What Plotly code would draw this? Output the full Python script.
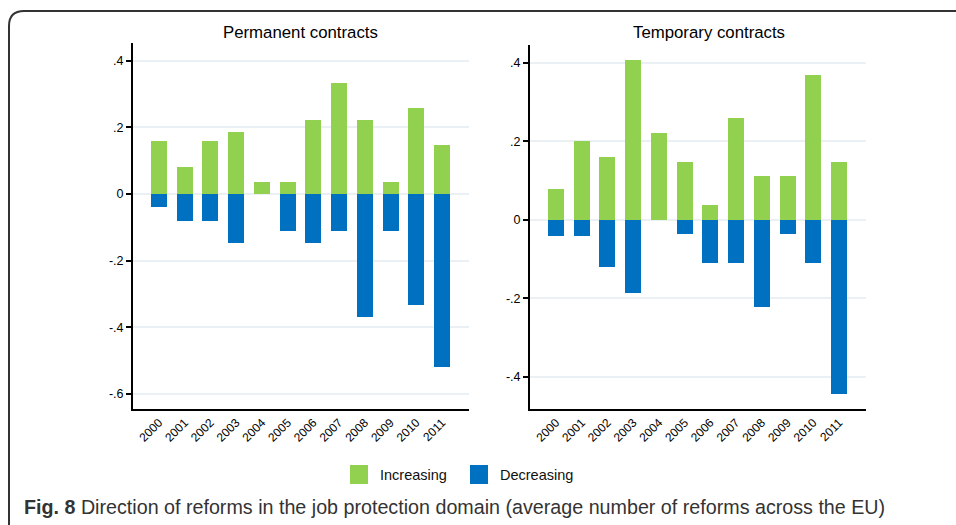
import plotly.graph_objects as go

W, H = 956, 525

years = ["2000", "2001", "2002", "2003", "2004", "2005", "2006", "2007", "2008", "2009", "2010", "2011"]

perm_increasing = [0.16, 0.08, 0.16, 0.185, 0.037, 0.037, 0.222, 0.333, 0.222, 0.037, 0.259, 0.148]
perm_decreasing = [-0.04, -0.08, -0.08, -0.148, 0.0, -0.111, -0.148, -0.111, -0.37, -0.111, -0.333, -0.519]

temp_increasing = [0.08, 0.2, 0.16, 0.407, 0.222, 0.148, 0.037, 0.259, 0.111, 0.111, 0.37, 0.148]
temp_decreasing = [-0.04, -0.04, -0.12, -0.185, 0.0, -0.037, -0.111, -0.111, -0.222, -0.037, -0.111, -0.444]

perm_ticks = [0.4, 0.2, 0, -0.2, -0.4, -0.6]
perm_ticklabels = [".4", ".2", "0", "-.2", "-.4", "-.6"]
temp_ticks = [0.4, 0.2, 0, -0.2, -0.4]
temp_ticklabels = [".4", ".2", "0", "-.2", "-.4"]

series_names = ["Increasing", "Decreasing"]

GREEN = "#92d050"
BLUE = "#0070c0"
xs = list(range(len(years)))


def px(x):
    return x / W


def py(y):
    return 1 - y / H


fig = go.Figure()
fig.add_trace(go.Bar(x=xs, y=perm_increasing, name=series_names[0], marker=dict(color=GREEN, line_width=0),
                     width=0.62, xaxis="x", yaxis="y", showlegend=False))
fig.add_trace(go.Bar(x=xs, y=perm_decreasing, name=series_names[1], marker=dict(color=BLUE, line_width=0),
                     width=0.62, xaxis="x", yaxis="y", showlegend=False))
fig.add_trace(go.Bar(x=xs, y=temp_increasing, name=series_names[0], marker=dict(color=GREEN, line_width=0),
                     width=0.62, xaxis="x2", yaxis="y2", showlegend=False))
fig.add_trace(go.Bar(x=xs, y=temp_decreasing, name=series_names[1], marker=dict(color=BLUE, line_width=0),
                     width=0.62, xaxis="x2", yaxis="y2", showlegend=False))

xaxis_common = dict(
    tickmode="array", tickvals=xs, ticktext=years, tickangle=-45,
    showline=True, linecolor="black", linewidth=2, ticks="", showgrid=False,
    zeroline=False, tickfont=dict(family="Liberation Sans, Arial", size=12, color="black"),
    range=[-1.01, 12.05], fixedrange=True,
)
yaxis_common = dict(
    tickmode="array", showline=True, linecolor="black", linewidth=2,
    ticks="outside", ticklen=5, tickwidth=1.5, tickcolor="black",
    showgrid=True, gridcolor="#eaf0f3", gridwidth=1.5, zeroline=False,
    tickfont=dict(family="Liberation Sans, Arial", size=12.5, color="black"),
    fixedrange=True,
)

fig.update_layout(
    width=W, height=H,
    margin=dict(l=0, r=0, t=0, b=0),
    paper_bgcolor="white", plot_bgcolor="white",
    barmode="relative", bargap=0,
    xaxis=dict(domain=[px(133), px(469)], anchor="y", **xaxis_common),
    yaxis=dict(domain=[py(409), py(43)], anchor="x", range=[-0.645, 0.453],
               tickvals=perm_ticks, ticktext=perm_ticklabels, **yaxis_common),
    xaxis2=dict(domain=[px(530), px(866)], anchor="y2", **xaxis_common),
    yaxis2=dict(domain=[py(409), py(45)], anchor="x2", range=[-0.482, 0.446],
                tickvals=temp_ticks, ticktext=temp_ticklabels, **yaxis_common),
    showlegend=False,
    font=dict(family="Liberation Sans, Arial", color="black"),
)

fig.add_annotation(x=px(300), y=py(33), xref="paper", yref="paper", text="Permanent contracts",
                   showarrow=False, xanchor="center", yanchor="middle",
                   font=dict(family="Liberation Sans, Arial", size=16.8, color="black"))
fig.add_annotation(x=px(709), y=py(33), xref="paper", yref="paper", text="Temporary contracts",
                   showarrow=False, xanchor="center", yanchor="middle",
                   font=dict(family="Liberation Sans, Arial", size=16.8, color="black"))

# legend keys
for (bx, tx, color, name) in [(350, 378, GREEN, series_names[0]), (470, 498, BLUE, series_names[1])]:
    fig.add_shape(type="rect", xref="paper", yref="paper",
                  x0=px(bx), x1=px(bx + 18), y0=py(484), y1=py(465),
                  fillcolor=color, line_width=0)
    fig.add_annotation(x=px(tx), y=py(475), xref="paper", yref="paper", text=name,
                       showarrow=False, xanchor="left", yanchor="middle",
                       font=dict(family="Liberation Sans, Arial", size=14.5, color="#111"))

fig.add_annotation(x=px(22), y=py(507), xref="paper", yref="paper",
                   text="<b>Fig. 8</b> Direction of reforms in the job protection domain (average number of reforms across the EU)",
                   showarrow=False, xanchor="left", yanchor="middle",
                   font=dict(family="Liberation Sans Narrow, Liberation Sans, Arial", size=19.7, color="#333"))

# outer frame (rounded top-left corner)
x0, y0, r = px(9), py(11), 15
path = (f"M {x0} 0 L {x0} {py(11 + r)} Q {x0} {y0} {px(9 + r)} {y0} L 1 {y0}")
fig.add_shape(type="path", path=path, xref="paper", yref="paper",
              line=dict(color="#333", width=2))

fig.write_html("out.html", config={"displayModeBar": False},
               post_script="document.body.style.margin='0';")
